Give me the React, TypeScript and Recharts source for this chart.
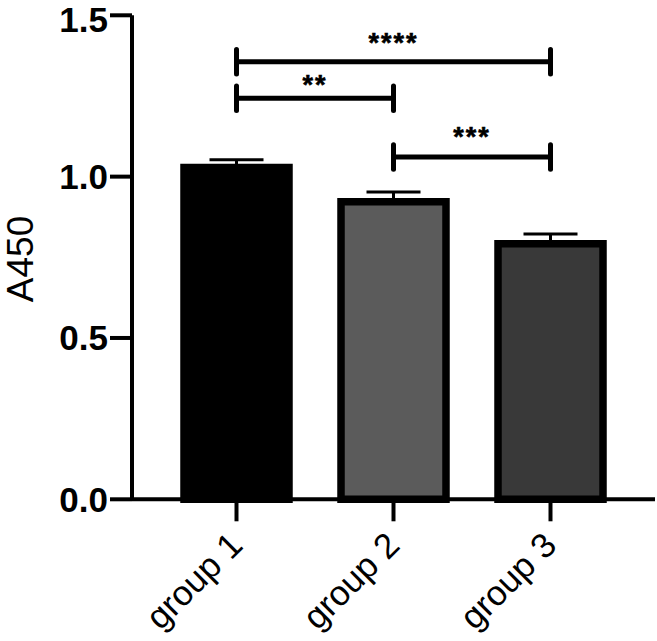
import React from 'react';
import { BarChart, Bar, XAxis, YAxis, Cell, ErrorBar, ReferenceLine } from 'recharts';

const categories = ['group 1', 'group 2', 'group 3'];
const means = [1.028, 0.922, 0.792];
const upperErrors = [0.024, 0.03, 0.03];
const barFills = ['#000000', '#5b5b5b', '#393939'];
const yTicks = [0, 0.5, 1.0, 1.5];

const bracketFrom = ['group 1', 'group 1', 'group 2'];
const bracketTo = ['group 3', 'group 2', 'group 3'];
const bracketY = [1.356, 1.243, 1.061];
const bracketLabels = ['****', '**', '***'];
const bracketCapHalf = 0.038;
const bracketLabelOffsets = [10, 4, 10.5];

const data = categories.map((c, i) => ({ name: c, value: means[i], err: [0, upperErrors[i]] }));

const FONT = '"Liberation Sans", Arial, Helvetica, sans-serif';

const XTick = (props: any) => {
  const { x, y, payload } = props;
  const ax = x + 8;
  const ay = y + 26;
  return (
    <text x={ax} y={ay} transform={`rotate(-45, ${ax}, ${ay})`} textAnchor="end" fontSize={35} fontFamily={FONT} fill="#000">
      {payload.value}
    </text>
  );
};

const YLabel = () => (
  <text x={33} y={259} transform="rotate(-90, 33, 259)" textAnchor="middle" fontSize={37} fontFamily={FONT} fill="#000">
    A450
  </text>
);

export default function App() {
  return (
    <div style={{ position: 'absolute', left: 0, top: 0, background: '#fff' }}>
      <BarChart width={657} height={641} data={data} margin={{ top: 15.3, right: 2, bottom: 0, left: 0 }}>
        <XAxis
          dataKey="name"
          padding={{ left: 26, right: 26 }}
          axisLine={{ stroke: '#000', strokeWidth: 4 }}
          tickLine={{ stroke: '#000', strokeWidth: 4 }}
          tickSize={22}
          tickMargin={0}
          tick={<XTick />}
          interval={0}
          height={141.7}
        />
        <YAxis
          domain={[0, 1.5]}
          ticks={yTicks}
          tickFormatter={(v: number) => v.toFixed(1)}
          width={132}
          axisLine={{ stroke: '#000', strokeWidth: 4 }}
          tickLine={{ stroke: '#000', strokeWidth: 4 }}
          tickSize={22}
          tickMargin={2}
          tick={{ fontSize: 35, fontWeight: 'bold', fill: '#000', fontFamily: FONT }}
          label={<YLabel />}
        />
        <Bar dataKey="value" barSize={105} stroke="#000" strokeWidth={7.5} isAnimationActive={false}>
          {data.map((d, i) => (
            <Cell key={d.name} fill={barFills[i]} />
          ))}
          <ErrorBar dataKey="err" width={27} stroke="#000" strokeWidth={3} direction="y" />
        </Bar>
        {bracketY.map((yv, i) => (
          <ReferenceLine
            key={`h${i}`}
            segment={[{ x: bracketFrom[i], y: yv }, { x: bracketTo[i], y: yv }]}
            stroke="#000"
            strokeWidth={5}
            label={{
              value: bracketLabels[i],
              position: 'top',
              offset: bracketLabelOffsets[i],
              fill: '#000',
              stroke: '#000',
              strokeWidth: 0.6,
              fontSize: 27,
              fontWeight: 'bold',
              fontFamily: FONT,
              letterSpacing: 2,
            }}
          />
        ))}
        {bracketY.map((yv, i) => (
          <ReferenceLine
            key={`l${i}`}
            segment={[{ x: bracketFrom[i], y: yv - bracketCapHalf }, { x: bracketFrom[i], y: yv + bracketCapHalf }]}
            stroke="#000"
            strokeWidth={5}
            strokeLinecap="round"
          />
        ))}
        {bracketY.map((yv, i) => (
          <ReferenceLine
            key={`r${i}`}
            segment={[{ x: bracketTo[i], y: yv - bracketCapHalf }, { x: bracketTo[i], y: yv + bracketCapHalf }]}
            stroke="#000"
            strokeWidth={5}
            strokeLinecap="round"
          />
        ))}
      </BarChart>
    </div>
  );
}
